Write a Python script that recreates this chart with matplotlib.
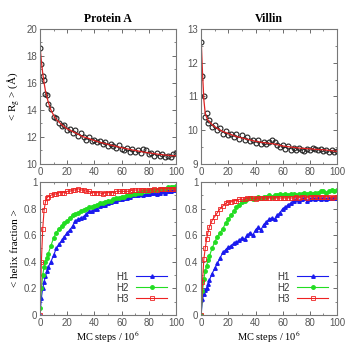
import matplotlib
matplotlib.use("Agg")
import matplotlib.pyplot as plt
from matplotlib.ticker import MultipleLocator, FuncFormatter

plt.rcParams['mathtext.fontset'] = 'stix'

# MC steps / 10^6
steps = [0, 1, 2, 3, 4, 5, 6, 8, 10, 12, 14, 16, 18, 20, 22, 24, 26, 28, 30, 32,
         34, 36, 38, 40, 42, 44, 46, 48, 50, 52, 54, 56, 58, 60, 62, 64, 66, 68,
         70, 72, 74, 76, 78, 80, 82, 84, 86, 88, 90, 92, 94, 96, 98, 100]

# <Rg> protein A: data (black circles) and fit (red line)
rg_protA = [18.6, 17.4, 16.5, 16.2, 15.2, 15.1, 14.4, 14.1, 13.5, 13.4, 13.0, 12.8,
            12.9, 12.5, 12.6, 12.3, 12.5, 12.1, 12.3, 12.0, 11.8, 12.0, 11.7, 11.8,
            11.6, 11.7, 11.5, 11.6, 11.3, 11.5, 11.3, 11.2, 11.4, 11.1, 11.0, 11.2,
            10.9, 11.1, 10.9, 11.0, 10.8, 11.1, 11.0, 10.7, 10.8, 10.6, 10.8, 10.6,
            10.7, 10.5, 10.6, 10.5, 10.7, 10.8]
fit_protA = [18.7, 17.6, 16.7, 16.0, 15.4, 15.0, 14.6, 14.0, 13.6, 13.3, 13.1, 12.9,
             12.75, 12.6, 12.5, 12.4, 12.3, 12.2, 12.1, 12.0, 11.95, 11.88, 11.8, 11.73,
             11.67, 11.6, 11.55, 11.5, 11.45, 11.4, 11.35, 11.3, 11.25, 11.2, 11.16, 11.12,
             11.08, 11.03, 11.0, 10.96, 10.92, 10.88, 10.85, 10.82, 10.79, 10.76, 10.73, 10.7,
             10.68, 10.66, 10.64, 10.62, 10.61, 10.6]

# <Rg> villin
rg_villin = [12.6, 11.6, 11.0, 10.4, 10.5, 10.2, 10.3, 10.1, 10.15, 10.0, 10.05, 9.9,
             9.98, 9.85, 9.9, 9.8, 9.88, 9.75, 9.85, 9.7, 9.8, 9.68, 9.72, 9.62,
             9.7, 9.6, 9.66, 9.58, 9.64, 9.7, 9.65, 9.55, 9.5, 9.56, 9.45, 9.52,
             9.42, 9.48, 9.4, 9.46, 9.42, 9.38, 9.45, 9.4, 9.48, 9.44, 9.4, 9.45,
             9.38, 9.42, 9.36, 9.4, 9.35, 9.38]
fit_villin = [12.7, 11.7, 10.9, 10.5, 10.38, 10.3, 10.25, 10.17, 10.1, 10.05, 10.0, 9.96,
              9.93, 9.9, 9.87, 9.84, 9.81, 9.79, 9.77, 9.75, 9.73, 9.71, 9.69, 9.67,
              9.66, 9.64, 9.63, 9.62, 9.61, 9.6, 9.59, 9.57, 9.55, 9.53, 9.52, 9.51,
              9.5, 9.49, 9.48, 9.47, 9.46, 9.46, 9.45, 9.45, 9.44, 9.43, 9.43, 9.42,
              9.42, 9.41, 9.4, 9.39, 9.38, 9.37]

# <helix fraction> protein A
protA_h1 = [0.0, 0.13, 0.2, 0.25, 0.29, 0.33, 0.36, 0.4, 0.45, 0.5, 0.53, 0.56,
            0.59, 0.62, 0.64, 0.67, 0.71, 0.72, 0.73, 0.74, 0.76, 0.78, 0.78, 0.8,
            0.8, 0.82, 0.83, 0.83, 0.84, 0.85, 0.86, 0.86, 0.87, 0.87, 0.88, 0.88,
            0.89, 0.9, 0.9, 0.9, 0.91, 0.9, 0.91, 0.91, 0.92, 0.92, 0.91, 0.92,
            0.93, 0.92, 0.93, 0.93, 0.94, 0.94]
protA_h2 = [0.05, 0.2, 0.3, 0.36, 0.4, 0.43, 0.46, 0.52, 0.58, 0.62, 0.65, 0.67,
            0.69, 0.71, 0.73, 0.75, 0.76, 0.77, 0.78, 0.79, 0.8, 0.81, 0.81, 0.82,
            0.83, 0.84, 0.84, 0.85, 0.86, 0.86, 0.87, 0.88, 0.88, 0.89, 0.89, 0.9,
            0.9, 0.91, 0.91, 0.92, 0.92, 0.93, 0.93, 0.93, 0.94, 0.94, 0.94, 0.95,
            0.95, 0.95, 0.96, 0.96, 0.96, 0.97]
protA_h3 = [0.0, 0.4, 0.65, 0.79, 0.85, 0.88, 0.89, 0.9, 0.91, 0.91, 0.92, 0.92,
            0.92, 0.93, 0.93, 0.94, 0.94, 0.95, 0.94, 0.94, 0.93, 0.93, 0.92, 0.92,
            0.92, 0.92, 0.91, 0.92, 0.92, 0.92, 0.92, 0.93, 0.93, 0.93, 0.93, 0.93,
            0.93, 0.94, 0.94, 0.94, 0.94, 0.94, 0.94, 0.94, 0.94, 0.95, 0.94, 0.95,
            0.95, 0.95, 0.95, 0.95, 0.95, 0.95]

# <helix fraction> villin
villin_h1 = [0.0, 0.12, 0.16, 0.19, 0.2, 0.23, 0.26, 0.31, 0.35, 0.39, 0.43, 0.47,
             0.49, 0.51, 0.52, 0.54, 0.55, 0.56, 0.58, 0.57, 0.6, 0.62, 0.6, 0.64,
             0.66, 0.64, 0.68, 0.7, 0.72, 0.73, 0.72, 0.75, 0.77, 0.8, 0.81, 0.83,
             0.84, 0.86, 0.87, 0.86, 0.87, 0.88, 0.86, 0.87, 0.88, 0.87, 0.88, 0.87,
             0.88, 0.87, 0.88, 0.88, 0.88, 0.88]
villin_h2 = [0.0, 0.18, 0.27, 0.33, 0.37, 0.41, 0.44, 0.5, 0.55, 0.59, 0.62, 0.65,
             0.69, 0.72, 0.75, 0.78, 0.81, 0.83, 0.85, 0.86, 0.87, 0.88, 0.87, 0.88,
             0.89, 0.88, 0.89, 0.89, 0.9, 0.89, 0.9, 0.9, 0.91, 0.9, 0.91, 0.9,
             0.91, 0.91, 0.9, 0.91, 0.91, 0.92, 0.91, 0.92, 0.91, 0.92, 0.92, 0.93,
             0.93, 0.92, 0.93, 0.94, 0.93, 0.94]
villin_h3 = [0.0, 0.25, 0.42, 0.5, 0.57, 0.62, 0.66, 0.71, 0.74, 0.77, 0.8, 0.82,
             0.84, 0.85, 0.85, 0.86, 0.86, 0.87, 0.87, 0.87, 0.88, 0.88, 0.88, 0.87,
             0.88, 0.88, 0.88, 0.88, 0.88, 0.88, 0.88, 0.88, 0.88, 0.88, 0.88, 0.88,
             0.88, 0.88, 0.89, 0.88, 0.89, 0.89, 0.88, 0.89, 0.89, 0.89, 0.89, 0.89,
             0.89, 0.89, 0.89, 0.88, 0.89, 0.89]

SERIF = 'Liberation Serif'
SANS = 'Liberation Sans'
GRAY = '#555555'

fig = plt.figure(figsize=(3.45, 3.48), dpi=100)
ax_rgA = fig.add_axes([0.116, 0.529, 0.394, 0.388])
ax_rgV = fig.add_axes([0.583, 0.529, 0.394, 0.388])
ax_hA = fig.add_axes([0.116, 0.095, 0.394, 0.382])
ax_hV = fig.add_axes([0.583, 0.095, 0.394, 0.382])


def style(ax, ylo, yhi, ymaj, ymin):
    ax.set_xlim(0, 100)
    ax.set_ylim(ylo, yhi)
    ax.xaxis.set_major_locator(MultipleLocator(20))
    ax.xaxis.set_minor_locator(MultipleLocator(10))
    ax.yaxis.set_major_locator(MultipleLocator(ymaj))
    ax.yaxis.set_minor_locator(MultipleLocator(ymin))
    ax.yaxis.set_major_formatter(FuncFormatter(lambda v, p: f'{v:g}'))
    ax.tick_params(which='both', direction='in', top=True, right=True,
                   colors=GRAY, labelsize=7, pad=2)
    ax.tick_params(which='major', length=3, width=0.6)
    ax.tick_params(which='minor', length=1.5, width=0.5)
    for lab in ax.get_xticklabels() + ax.get_yticklabels():
        lab.set_fontfamily(SANS)
    for sp in ax.spines.values():
        sp.set_color('#777777')
        sp.set_linewidth(0.8)


# radius of gyration panels
for ax, rg, fit, title in [(ax_rgA, rg_protA, fit_protA, 'Protein A'),
                           (ax_rgV, rg_villin, fit_villin, 'Villin')]:
    ax.plot(steps, rg, 'o', mfc='none', mec='#222222', ms=3.5, mew=0.8)
    ax.plot(steps, fit, '-', color='#dd2222', lw=0.9)
    ax.set_title(title, fontfamily=SERIF, fontweight='bold', fontsize=8.5, pad=5)
style(ax_rgA, 10, 20, 2, 1)
style(ax_rgV, 9, 13, 1, 0.5)
ax_rgA.set_ylabel(r'< R$_{\rm g}$ > (Å)', fontfamily=SERIF, fontsize=8, labelpad=3)

# helix fraction panels
for ax, h1, h2, h3 in [(ax_hA, protA_h1, protA_h2, protA_h3),
                       (ax_hV, villin_h1, villin_h2, villin_h3)]:
    ax.plot(steps, h1, '-^', color='#1a1aee', lw=0.8, ms=2.5, label='H1')
    ax.plot(steps, h2, '-o', color='#22dd22', lw=0.8, ms=2.5, label='H2')
    ax.plot(steps, h3, '-s', color='#ee2222', lw=0.8, ms=3, mfc='none', mew=0.6,
            label='H3')
    leg = ax.legend(loc='lower right', bbox_to_anchor=(1.0, 0.02), frameon=False,
                    markerfirst=False, numpoints=1, handlelength=3.2,
                    labelspacing=0.1, handletextpad=0.8,
                    prop={'family': SANS, 'size': 7})
    for t in leg.get_texts():
        t.set_color('#333333')
    style(ax, 0, 1, 0.2, 0.1)
    ax.set_xlabel(r'MC steps / 10$^6$', fontfamily=SERIF, fontsize=7.5, labelpad=1)
ax_hA.set_ylabel('< helix fraction >', fontfamily=SERIF, fontsize=8, labelpad=3)

fig.savefig('out.png', dpi=100)
